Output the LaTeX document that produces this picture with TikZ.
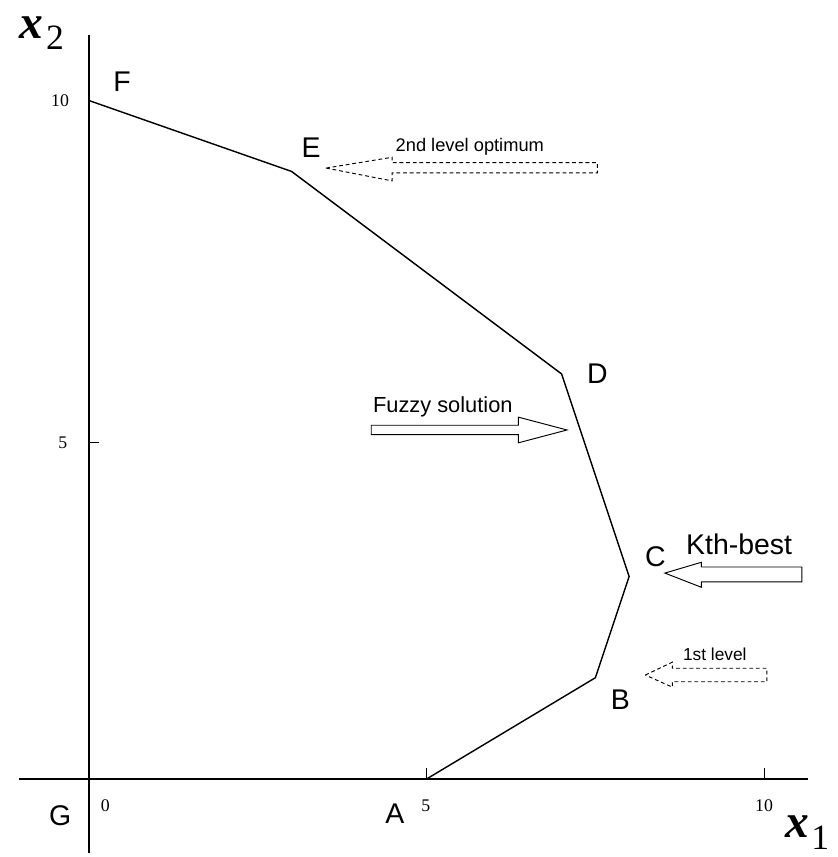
\documentclass[tikz,border=0pt]{standalone}
\usepackage{fontspec}
\setmainfont{Liberation Sans}
\newfontfamily\tickfont{Liberation Serif}
\tikzset{
    pt/.style={font=\fontsize{12}{12}\selectfont, inner sep=0pt},
    tick/.style={font=\tickfont\fontsize{7.5}{7.5}\selectfont, inner sep=0pt},
    note/.style={inner sep=0pt},
    fat/.style={line width=0.4pt},
    fatdash/.style={line width=0.4pt, dash pattern=on 1.6pt off 1.2pt},
}
\newcommand{\axislabel}[1]{{\tickfont\fontsize{20}{20}\selectfont\bfseries\itshape x}\kern1pt\raisebox{-5pt}{\tickfont\fontsize{15}{15}\selectfont #1}}
\begin{document}
\begin{tikzpicture}
    \useasboundingbox (-1.32,-1.156) rectangle (11.08,11.54);

    % axes
    \draw[line width=0.8pt] (-1.04,0) -- (10.65,0);
    \draw[line width=0.8pt] (0,-1.10) -- (0,11.02);
    \draw[line width=0.5pt] (5,0) -- (5,0.16);
    \draw[line width=0.5pt] (10,0) -- (10,0.16);
    \draw[line width=0.5pt] (0,4.98) -- (0.15,4.98);

    \node[tick] (t0) at (0.24,-0.39) {0};
    \node[tick] (t5) at (4.99,-0.39) {5};
    \node[tick] (t10) at (10.0,-0.39) {10};
    \node[tick] (s5) at (-0.39,4.98) {5};
    \node[tick] (s10) at (-0.43,10.05) {10};

    \node[inner sep=0pt] (xone) at (10.64,-0.80) {\axislabel{1}};
    \node[inner sep=0pt] (xtwo) at (-0.70,11.05) {\axislabel{2}};

    % feasible region
    \coordinate (pF) at (0,10.05);
    \coordinate (pE) at (3,9);
    \coordinate (pD) at (7,6);
    \coordinate (pC) at (8,3);
    \coordinate (pB) at (7.5,1.5);
    \coordinate (pA) at (5,0);
    \draw[line width=0.6pt] (pF) -- (pE) -- (pD) -- (pC) -- (pB) -- (pA);

    \node[pt] (A) at (4.53,-0.52) {A};
    \node[pt] (B) at (7.87,1.17) {B};
    \node[pt] (C) at (8.39,3.30) {C};
    \node[pt] (D) at (7.53,6.00) {D};
    \node[pt] (E) at (3.29,9.35) {E};
    \node[pt] (F) at (0.49,10.33) {F};
    \node[pt] (G) at (-0.43,-0.55) {G};

    % block arrows
    \draw[fatdash] (3.51,9.05) -- (4.49,9.21) -- (4.49,9.13) -- (7.53,9.13)
        -- (7.53,8.98) -- (4.49,8.98) -- (4.49,8.86) -- cycle;
    \node[note, font=\fontsize{7.7}{8}\selectfont] (second) at (5.64,9.36) {2nd level optimum};

    \draw[fat] (7.08,5.17) -- (6.36,5.36) -- (6.36,5.24) -- (4.18,5.24)
        -- (4.18,5.10) -- (6.36,5.10) -- (6.36,4.98) -- cycle;
    \node[note, font=\fontsize{9.2}{10}\selectfont] (fuzzy) at (5.24,5.51) {Fuzzy solution};

    \draw[fat] (8.53,3.05) -- (9.07,3.21) -- (9.07,3.14) -- (10.56,3.14)
        -- (10.56,2.92) -- (9.07,2.92) -- (9.07,2.84) -- cycle;
    \node[note, font=\fontsize{12}{12}\selectfont] (kth) at (9.63,3.47) {Kth-best};

    \draw[fatdash] (8.24,1.54) -- (8.64,1.73) -- (8.64,1.64) -- (10.04,1.64)
        -- (10.04,1.44) -- (8.64,1.44) -- (8.64,1.36) -- cycle;
    \node[note, font=\fontsize{7.3}{8}\selectfont] (first) at (9.27,1.85) {1st level};
\end{tikzpicture}
\end{document}
